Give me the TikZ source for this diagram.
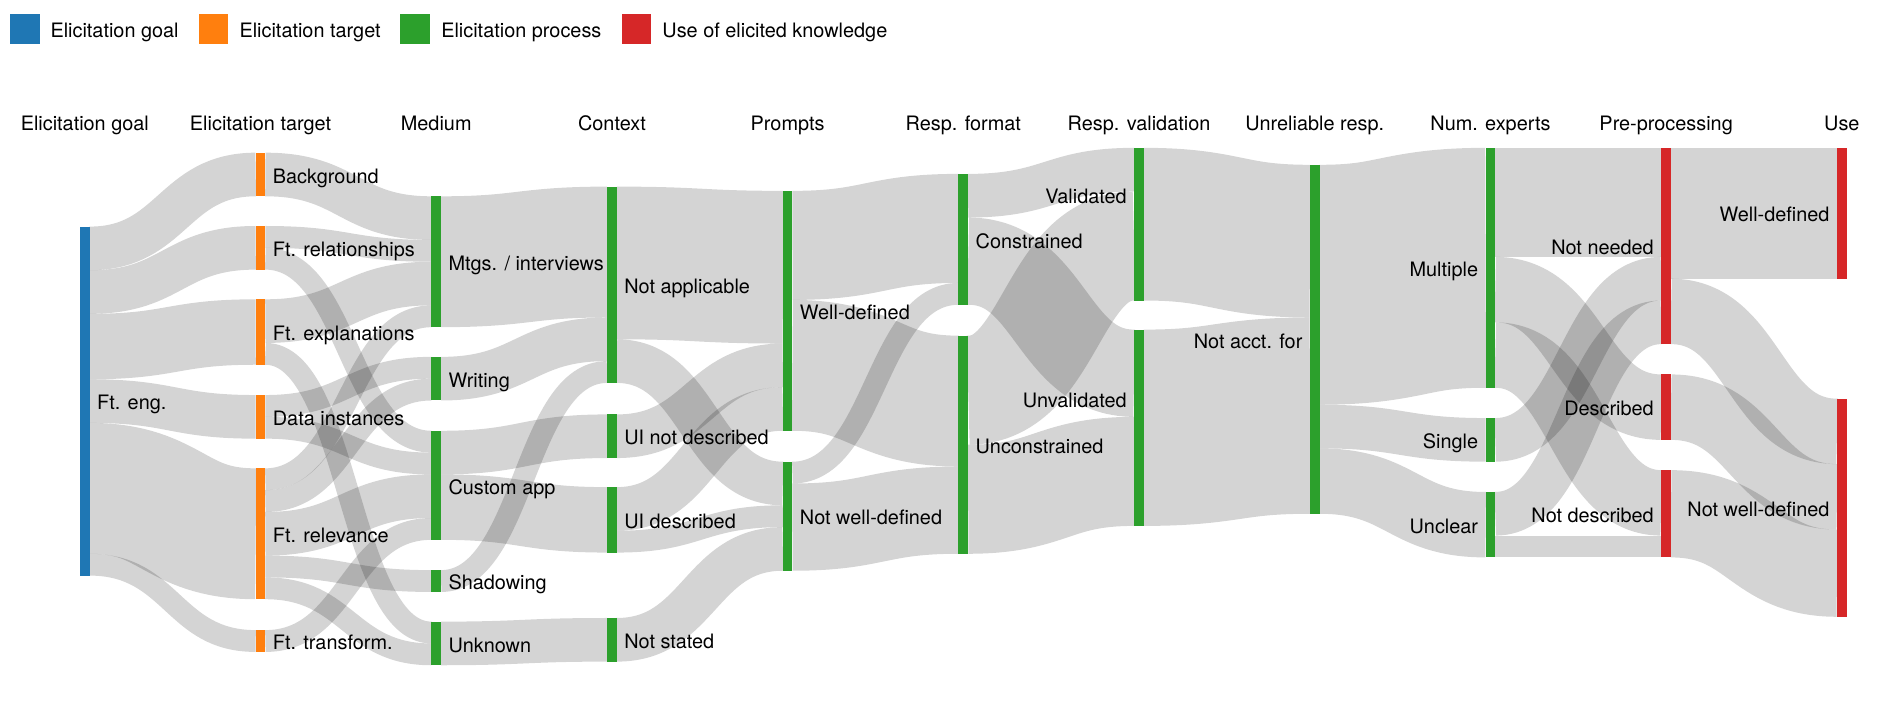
\documentclass[tikz,border=0pt]{standalone}
\usepackage{fontspec}
\setmainfont{TeX Gyre Heros}
\usetikzlibrary{calc}
\definecolor{cgoal}{HTML}{1F77B4}
\definecolor{ctarget}{HTML}{FF7F0E}
\definecolor{cproc}{HTML}{2CA02C}
\definecolor{cuse}{HTML}{D62728}
\pgfdeclarelayer{flows}
\pgfsetlayers{flows,main}
% link: source, source offset (units), target, target offset (units), width (units)
\newcommand\sklnk[5]{%
  \coordinate (la) at ($(#1.north east)+(0pt,-#2*18pt-#5*9pt)$);
  \coordinate (lb) at ($(#3.north west)+(0pt,-#4*18pt-#5*9pt)$);
  \coordinate (lm) at ($(la)!0.5!(lb)$);
  \draw[flow,line width=#5*18pt] (la) .. controls (la -| lm) and (lb -| lm) .. (lb);}
\begin{document}
\begin{tikzpicture}[x=1pt,y=-1pt,
  font=\fontsize{16.4}{19}\selectfont,
  bar/.style={rectangle,inner sep=0pt,outer sep=0pt,minimum width=8pt,anchor=north west,draw=none},
  flow/.style={draw=black,draw opacity=0.17},
  lblr/.style={anchor=base west,inner sep=0pt},
  lbll/.style={anchor=base east,inner sep=0pt},
  hdr/.style={anchor=base,inner sep=0pt}]
\useasboundingbox (0,0) rectangle (1568,579.3);
% legend
\node[bar,fill=cgoal,minimum width=24.5pt,minimum height=24.5pt] (lg1) at (8.5,11.5) {};
\node[lblr] (lg1t) at (41.5,31) {Elicitation goal};
\node[bar,fill=ctarget,minimum width=24.5pt,minimum height=24.5pt] (lg2) at (164,11.5) {};
\node[lblr] (lg2t) at (197.5,31) {Elicitation target};
\node[bar,fill=cproc,minimum width=24.5pt,minimum height=24.5pt] (lg3) at (330.5,11.5) {};
\node[lblr] (lg3t) at (364,31) {Elicitation process};
\node[bar,fill=cuse,minimum width=24.5pt,minimum height=24.5pt] (lg4) at (513,11.5) {};
\node[lblr] (lg4t) at (546.5,31) {Use of elicited knowledge};
% headers
\node[hdr] (h0) at (70,107.5) {Elicitation goal};
\node[hdr] (h1) at (215,107.5) {Elicitation target};
\node[hdr] (h2) at (360,107.5) {Medium};
\node[hdr] (h3) at (505,107.5) {Context};
\node[hdr] (h4) at (650,107.5) {Prompts};
\node[hdr] (h5) at (795,107.5) {Resp. format};
\node[hdr] (h6) at (940,107.5) {Resp. validation};
\node[hdr] (h7) at (1085,107.5) {Unreliable resp.};
\node[hdr] (h8) at (1230,107.5) {Num. experts};
\node[hdr] (h9) at (1375,107.5) {Pre-processing};
\node[hdr] (h10) at (1520,107.5) {Use};
% bars
\node[bar,fill=cgoal,minimum height=16*18pt] (fe) at (66,187) {};
\node[bar,fill=ctarget,minimum height=2*18pt] (bg) at (211,126) {};
\node[bar,fill=ctarget,minimum height=2*18pt] (rel) at (211,186.5) {};
\node[bar,fill=ctarget,minimum height=3*18pt] (expl) at (211,247) {};
\node[bar,fill=ctarget,minimum height=2*18pt] (di) at (211,326) {};
\node[bar,fill=ctarget,minimum height=6*18pt] (relv) at (211,386.5) {};
\node[bar,fill=ctarget,minimum height=1*18pt] (tr) at (211,520) {};
\node[bar,fill=cproc,minimum height=6*18pt] (mtg) at (356,162) {};
\node[bar,fill=cproc,minimum height=2*18pt] (wri) at (356,294.5) {};
\node[bar,fill=cproc,minimum height=5*18pt] (app) at (356,355.5) {};
\node[bar,fill=cproc,minimum height=1*18pt] (sha) at (356,470.5) {};
\node[bar,fill=cproc,minimum height=2*18pt] (unk) at (356,513) {};
\node[bar,fill=cproc,minimum height=9*18pt] (na) at (501,154) {};
\node[bar,fill=cproc,minimum height=2*18pt] (uind) at (501,342) {};
\node[bar,fill=cproc,minimum height=3*18pt] (uid) at (501,402) {};
\node[bar,fill=cproc,minimum height=2*18pt] (ns) at (501,510) {};
\node[bar,fill=cproc,minimum height=11*18pt] (pwd) at (646,157.5) {};
\node[bar,fill=cproc,minimum height=5*18pt] (pnwd) at (646,381) {};
\node[bar,fill=cproc,minimum height=6*18pt] (con) at (791,143.5) {};
\node[bar,fill=cproc,minimum height=10*18pt] (ucon) at (791,277) {};
\node[bar,fill=cproc,minimum height=7*18pt] (val) at (936,122) {};
\node[bar,fill=cproc,minimum height=9*18pt] (uval) at (936,272) {};
\node[bar,fill=cproc,minimum height=16*18pt] (naf) at (1081,136) {};
\node[bar,fill=cproc,minimum height=11*18pt] (mul) at (1226,122) {};
\node[bar,fill=cproc,minimum height=2*18pt] (sin) at (1226,345) {};
\node[bar,fill=cproc,minimum height=3*18pt] (unc) at (1226,406) {};
\node[bar,fill=cuse,minimum height=9*18pt] (nn) at (1371,122) {};
\node[bar,fill=cuse,minimum height=3*18pt] (des) at (1371,309) {};
\node[bar,fill=cuse,minimum height=4*18pt] (nd) at (1371,388) {};
\node[bar,fill=cuse,minimum height=6*18pt] (uwd) at (1516,122) {};
\node[bar,fill=cuse,minimum height=10*18pt] (unwd) at (1516,329) {};
% flows
\begin{pgfonlayer}{flows}
\sklnk{fe}{0}{bg}{0}{2}
\sklnk{fe}{2}{rel}{0}{2}
\sklnk{fe}{4}{expl}{0}{3}
\sklnk{fe}{7}{di}{0}{2}
\sklnk{fe}{9}{relv}{0}{6}
\sklnk{fe}{15}{tr}{0}{1}
\sklnk{bg}{0}{mtg}{0}{2}
\sklnk{rel}{0}{mtg}{2}{1}
\sklnk{rel}{1}{app}{0}{1}
\sklnk{expl}{0}{mtg}{3}{2}
\sklnk{expl}{2}{unk}{0}{1}
\sklnk{di}{0}{wri}{0}{1}
\sklnk{di}{1}{app}{1}{1}
\sklnk{relv}{0}{mtg}{5}{1}
\sklnk{relv}{1}{wri}{1}{1}
\sklnk{relv}{2}{app}{2}{2}
\sklnk{relv}{4}{sha}{0}{1}
\sklnk{relv}{5}{unk}{1}{1}
\sklnk{tr}{0}{app}{4}{1}
\sklnk{mtg}{0}{na}{0}{6}
\sklnk{wri}{0}{na}{6}{2}
\sklnk{app}{0}{uind}{0}{2}
\sklnk{app}{2}{uid}{0}{3}
\sklnk{sha}{0}{na}{8}{1}
\sklnk{unk}{0}{ns}{0}{2}
\sklnk{na}{0}{pwd}{0}{7}
\sklnk{na}{7}{pnwd}{0}{2}
\sklnk{uind}{0}{pwd}{7}{2}
\sklnk{uid}{0}{pwd}{9}{2}
\sklnk{uid}{2}{pnwd}{2}{1}
\sklnk{ns}{0}{pnwd}{3}{2}
\sklnk{pwd}{0}{con}{0}{5}
\sklnk{pwd}{5}{ucon}{0}{6}
\sklnk{pnwd}{0}{con}{5}{1}
\sklnk{pnwd}{1}{ucon}{6}{4}
\sklnk{con}{0}{val}{0}{2}
\sklnk{con}{2}{uval}{0}{4}
\sklnk{ucon}{0}{val}{2}{5}
\sklnk{ucon}{5}{uval}{4}{5}
\sklnk{val}{0}{naf}{0}{7}
\sklnk{uval}{0}{naf}{7}{9}
\sklnk{naf}{0}{mul}{0}{11}
\sklnk{naf}{11}{sin}{0}{2}
\sklnk{naf}{13}{unc}{0}{3}
\sklnk{mul}{0}{nn}{0}{5}
\sklnk{mul}{5}{des}{0}{3}
\sklnk{mul}{8}{nd}{0}{3}
\sklnk{sin}{0}{nn}{5}{2}
\sklnk{unc}{0}{nn}{7}{2}
\sklnk{unc}{2}{nd}{3}{1}
\sklnk{nn}{0}{uwd}{0}{6}
\sklnk{nn}{6}{unwd}{0}{3}
\sklnk{des}{0}{unwd}{3}{3}
\sklnk{nd}{0}{unwd}{6}{4}
\end{pgfonlayer}
% node labels
\node[lblr] (fe-t) at ($(fe.east)+(6pt,-7.2pt)$) {Ft. eng.};
\node[lblr] (bg-t) at ($(bg.east)+(6pt,-7.2pt)$) {Background};
\node[lblr] (rel-t) at ($(rel.east)+(6pt,-7.2pt)$) {Ft. relationships};
\node[lblr] (expl-t) at ($(expl.east)+(6pt,-7.2pt)$) {Ft. explanations};
\node[lblr] (di-t) at ($(di.east)+(6pt,-7.2pt)$) {Data instances};
\node[lblr] (relv-t) at ($(relv.east)+(6pt,-7.2pt)$) {Ft. relevance};
\node[lblr] (tr-t) at ($(tr.east)+(6pt,-7.2pt)$) {Ft. transform.};
\node[lblr] (mtg-t) at ($(mtg.east)+(6pt,-7.2pt)$) {Mtgs. / interviews};
\node[lblr] (wri-t) at ($(wri.east)+(6pt,-7.2pt)$) {Writing};
\node[lblr] (app-t) at ($(app.east)+(6pt,-7.2pt)$) {Custom app};
\node[lblr] (sha-t) at ($(sha.east)+(6pt,-7.2pt)$) {Shadowing};
\node[lblr] (unk-t) at ($(unk.east)+(6pt,-7.2pt)$) {Unknown};
\node[lblr] (na-t) at ($(na.east)+(6pt,-7.2pt)$) {Not applicable};
\node[lblr] (uind-t) at ($(uind.east)+(6pt,-7.2pt)$) {UI not described};
\node[lblr] (uid-t) at ($(uid.east)+(6pt,-7.2pt)$) {UI described};
\node[lblr] (ns-t) at ($(ns.east)+(6pt,-7.2pt)$) {Not stated};
\node[lblr] (pwd-t) at ($(pwd.east)+(6pt,-7.2pt)$) {Well-defined};
\node[lblr] (pnwd-t) at ($(pnwd.east)+(6pt,-7.2pt)$) {Not well-defined};
\node[lblr] (con-t) at ($(con.east)+(6pt,-7.2pt)$) {Constrained};
\node[lblr] (ucon-t) at ($(ucon.east)+(6pt,-7.2pt)$) {Unconstrained};
\node[lbll] (val-t) at ($(val.north west)+(-6pt,-46pt)$) {Validated};
\node[lbll] (uval-t) at ($(uval.north west)+(-6pt,-64pt)$) {Unvalidated};
\node[lbll] (naf-t) at ($(naf.west)+(-6pt,-7.2pt)$) {Not acct. for};
\node[lbll] (mul-t) at ($(mul.west)+(-6pt,-7.2pt)$) {Multiple};
\node[lbll] (sin-t) at ($(sin.west)+(-6pt,-7.2pt)$) {Single};
\node[lbll] (unc-t) at ($(unc.west)+(-6pt,-7.2pt)$) {Unclear};
\node[lbll] (nn-t) at ($(nn.west)+(-6pt,-7.2pt)$) {Not needed};
\node[lbll] (des-t) at ($(des.west)+(-6pt,-7.2pt)$) {Described};
\node[lbll] (nd-t) at ($(nd.west)+(-6pt,-7.2pt)$) {Not described};
\node[lbll] (uwd-t) at ($(uwd.west)+(-6pt,-7.2pt)$) {Well-defined};
\node[lbll] (unwd-t) at ($(unwd.west)+(-6pt,-7.2pt)$) {Not well-defined};
\end{tikzpicture}
\end{document}
